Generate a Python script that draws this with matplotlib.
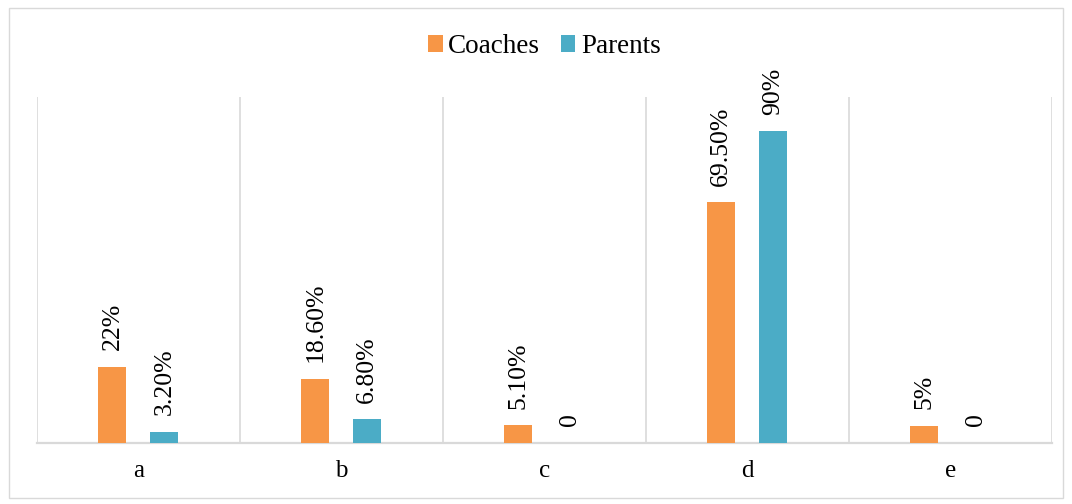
import numpy as np
import matplotlib
matplotlib.use("Agg")
import matplotlib.pyplot as plt
from matplotlib.patches import Rectangle

categories = ["a", "b", "c", "d", "e"]
coaches = [22, 18.6, 5.1, 69.5, 5]
parents = [3.2, 6.8, 0, 90, 0]
coach_labels = ["22%", "18.60%", "5.10%", "69.50%", "5%"]
parent_labels = ["3.20%", "6.80%", "0", "90%", "0"]

plt.rcParams['font.family'] = ['Liberation Serif', 'DejaVu Serif']

orange = '#F79646'
blue = '#4BACC6'
grid_col = '#d9d9d9'

fig = plt.figure(figsize=(10.72, 5.04), dpi=100)
ax = fig.add_axes([0.0345, 0.121, 0.9465, 0.687])

x = np.arange(len(categories))
w = 0.138
off = 0.128
b1 = ax.bar(x - off, coaches, w, color=orange, label='Coaches', zorder=3)
b2 = ax.bar(x + off, parents, w, color=blue, label='Parents', zorder=3)

for bars, labels in ((b1, coach_labels), (b2, parent_labels)):
    for rect, lab in zip(bars, labels):
        ax.annotate(lab, (rect.get_x() + rect.get_width() / 2, rect.get_height()),
                    xytext=(0, 12), textcoords='offset points', rotation=90,
                    ha='center', va='bottom', fontsize=18.5)

ax.set_xlim(-0.5, len(categories) - 0.5)
ax.set_ylim(0, 100)
ax.set_xticks(x)
ax.set_xticklabels(categories, fontsize=18)
ax.tick_params(axis='x', length=0, pad=12)
ax.set_yticks([])
for xv in np.arange(-0.5, len(categories), 1.0):
    ax.axvline(xv, color=grid_col, lw=1.2, zorder=1)
for s in ['top', 'left', 'right']:
    ax.spines[s].set_visible(False)
ax.spines['bottom'].set_color(grid_col)
ax.spines['bottom'].set_linewidth(1.6)

ax.legend(loc='center', bbox_to_anchor=(0.5, 1.145), ncol=2, frameon=False,
          fontsize=19.5, handlelength=0.55, handleheight=0.55, handletextpad=0.2,
          columnspacing=0.75)

fig.patches.append(Rectangle((0.008, 0.012), 0.984, 0.973, transform=fig.transFigure,
                             fill=False, edgecolor=grid_col, lw=1))

fig.savefig('out.png', dpi=100)
